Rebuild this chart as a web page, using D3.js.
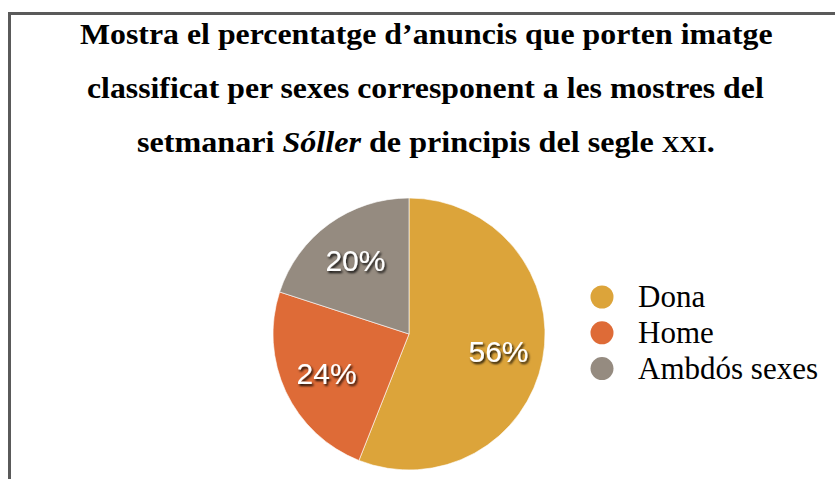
<!DOCTYPE html>
<html>
<head>
<meta charset="utf-8">
<script src="https://cdn.jsdelivr.net/npm/d3@7/dist/d3.min.js"></script>
<style>
  html, body { margin: 0; padding: 0; background: #fff; }
  svg { display: block; }
  .serif { font-family: 'Liberation Serif', 'Times New Roman', serif; }
  .sans { font-family: 'Liberation Sans', Arial, Helvetica, sans-serif; }
</style>
</head>
<body>
<div id="chart"></div>
<script>
// chart values
const categories = ['Dona', 'Home', 'Ambdós sexes'];
const values = [56, 24, 20];
const colors = ['#dca43a', '#de6b37', '#958b80'];

const width = 835;
const height = 479;

const svg = d3.select('#chart')
  .append('svg')
  .attr('width', width)
  .attr('height', height);

// drop shadow for the slice labels
const defs = svg.append('defs');
defs.append('filter')
  .attr('id', 'shadow')
  .attr('x', '-20%').attr('y', '-20%')
  .attr('width', '140%').attr('height', '140%')
  .append('feDropShadow')
  .attr('dx', 1.5)
  .attr('dy', 2)
  .attr('stdDeviation', 1.3)
  .attr('flood-color', '#000')
  .attr('flood-opacity', 0.9);

// frame
svg.append('path')
  .attr('d', `M9.5,${height} V13.5 H${width}`)
  .attr('fill', 'none')
  .attr('stroke', '#5a5a5a')
  .attr('stroke-width', 3);

// title, three lines, each stretched to the width it has in the original
const titleLines = [
  { y: 44, x0: 80, w: 693 },
  { y: 98, x0: 87, w: 677 },
  { y: 152.5, x0: 137, w: 578 }
];

const t1 = svg.append('text').attr('class', 'serif')
  .style('font-weight', '700').style('font-size', '30px')
  .attr('x', titleLines[0].x0).attr('y', titleLines[0].y)
  .text('Mostra el percentatge d’anuncis que porten imatge');

const t2 = svg.append('text').attr('class', 'serif')
  .style('font-weight', '700').style('font-size', '30px')
  .attr('x', titleLines[1].x0).attr('y', titleLines[1].y)
  .text('classificat per sexes corresponent a les mostres del');

const t3 = svg.append('text').attr('class', 'serif')
  .style('font-weight', '700').style('font-size', '30px')
  .attr('x', titleLines[2].x0).attr('y', titleLines[2].y);

t3.append('tspan').text('setmanari ');
t3.append('tspan').style('font-style', 'italic').text('Sóller');
t3.append('tspan').text(' de principis del segle ');
t3.append('tspan').style('font-size', '23px').text('XXI');
t3.append('tspan').text('.');

[t1, t2, t3].forEach((t, i) => {
  const l = titleLines[i];
  const w = t.node().getComputedTextLength();
  t.attr('transform', `translate(${l.x0},0) scale(${l.w / w},1) translate(${-l.x0},0)`);
});

// pie
const cx = 409, cy = 334, radius = 136;

const pie = d3.pie().sort(null).value(d => d.value);
const arc = d3.arc().innerRadius(0).outerRadius(radius);
const labelArc = d3.arc().innerRadius(radius * 0.67).outerRadius(radius * 0.67);

const data = categories.map((c, i) => ({ name: c, value: values[i], color: colors[i] }));
const arcs = pie(data);

const g = svg.append('g').attr('transform', `translate(${cx},${cy})`);

g.selectAll('path.slice')
  .data(arcs)
  .enter()
  .append('path')
  .attr('class', 'slice')
  .attr('d', arc)
  .attr('fill', d => d.data.color)
  .attr('stroke', '#fff')
  .attr('stroke-width', 0.6);

g.selectAll('text.label')
  .data(arcs)
  .enter()
  .append('text')
  .attr('class', 'label sans')
  .attr('transform', d => `translate(${labelArc.centroid(d)})`)
  .attr('dy', '0.36em')
  .attr('text-anchor', 'middle')
  .style('font-size', '30px')
  .attr('fill', '#fff')
  .attr('filter', 'url(#shadow)')
  .text(d => d.data.value + '%');

// legend
const legend = svg.append('g')
  .attr('transform', 'translate(602,297)');

const item = legend.selectAll('g.item')
  .data(data)
  .enter()
  .append('g')
  .attr('class', 'item')
  .attr('transform', (d, i) => `translate(0,${i * 35.8})`);

item.append('circle')
  .attr('r', 11.5)
  .attr('fill', d => d.color);

item.append('text')
  .attr('class', 'serif')
  .attr('x', 36)
  .attr('y', 10)
  .style('font-size', '31px')
  .attr('fill', '#000')
  .text(d => d.name);
</script>
</body>
</html>
